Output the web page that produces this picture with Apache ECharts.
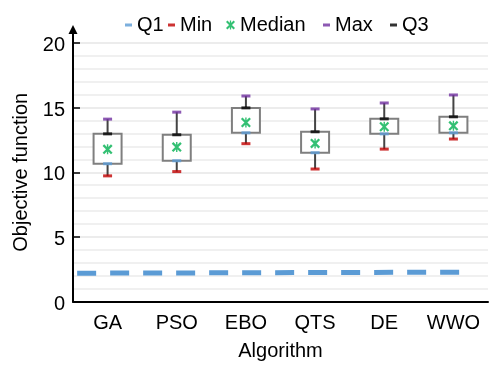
<!DOCTYPE html>
<html><head><meta charset="utf-8">
<script src="https://cdn.jsdelivr.net/npm/echarts@6/dist/echarts.min.js"></script>
<style>html,body{margin:0;padding:0;background:#fff}#c{width:489px;height:365px}</style>
</head><body><div id="c"></div>
<script>
var categories = ['GA', 'PSO', 'EBO', 'QTS', 'DE', 'WWO'];
var minV = [9.72, 10.05, 12.21, 10.25, 11.79, 12.57];
var q1V = [10.66, 10.89, 13.05, 11.51, 12.97, 13.05];
var medV = [11.77, 11.95, 13.85, 12.23, 13.52, 13.59];
var q3V = [12.97, 12.9, 14.98, 13.13, 14.13, 14.29];
var maxV = [14.11, 14.65, 15.9, 14.9, 15.36, 15.98];
var refX = [0.06, 5.63];
var refY = [2.19, 2.27];
var yTicks = [0, 5, 10, 15, 20];

var FONT = "'Liberation Sans', Arial, sans-serif";
var C_Q1 = '#5b9bd5', C_MIN = '#c00000', C_MED = '#00b050', C_MAX = '#7030a0', C_Q3 = '#000000';
var STAR = 'path://M0,1.6L1.6,0L10,8.4L8.4,10Z M8.4,0L10,1.6L1.6,10L0,8.4Z M4.3,0H5.7V10H4.3Z';

function pts(arr) { return arr.map(function (v, i) { return [i, v]; }); }
var boxData = categories.map(function (c, i) { return [i, minV[i], q1V[i], q3V[i], maxV[i]]; });
var refData = refX.map(function (x, i) { return [x, refY[i]]; });

function mkLegend(name, left, icon, w, h) {
  return {
    data: [{ name: name, icon: icon }], left: left, top: 15, padding: 0,
    itemWidth: w, itemHeight: h, selectedMode: false,
    textStyle: { fontFamily: FONT, fontSize: 20, color: '#000', lineHeight: 20 }
  };
}

var chart = echarts.init(document.getElementById('c'));
chart.setOption({
  animation: false,
  backgroundColor: '#fff',
  legend: [
    mkLegend('Q1', 125, 'rect', 7, 3),
    mkLegend('Min', 168, 'rect', 7, 3),
    mkLegend('Median', 226, STAR, 9, 9),
    mkLegend('Max', 323, 'rect', 7, 3),
    mkLegend('Q3', 390, 'rect', 7, 3)
  ],
  grid: [
    { left: 73, right: 1, top: 43, bottom: 63.5, containLabel: false, outerBoundsMode: 'none' },
    { left: 73, right: 1, top: 29.5, bottom: 63.5, containLabel: false, outerBoundsMode: 'none' }
  ],
  xAxis: [{
    type: 'category', data: categories, boundaryGap: true, gridIndex: 0,
    name: 'Algorithm', nameLocation: 'middle', nameGap: 40,
    nameTextStyle: { fontFamily: FONT, fontSize: 20, color: '#000' },
    axisLine: { lineStyle: { color: '#000', width: 2 } },
    axisTick: { inside: true, length: 5, lineStyle: { color: '#000', width: 1.5 } },
    axisLabel: { interval: 0, fontFamily: FONT, fontSize: 20, color: '#000', margin: 12 },
    splitLine: { show: false }
  }, {
    type: 'value', min: 0, max: 6, show: false, gridIndex: 0
  }, {
    type: 'value', min: 0, max: 1, show: false, gridIndex: 1
  }],
  yAxis: [{
    type: 'value', min: yTicks[0], max: yTicks[yTicks.length - 1], interval: 5, gridIndex: 0,
    name: 'Objective function', nameLocation: 'middle', nameGap: 42,
    nameTextStyle: { fontFamily: FONT, fontSize: 20, color: '#000' },
    axisLine: { show: true, lineStyle: { color: '#000', width: 2 } },
    axisTick: { show: true, inside: true, length: 7, lineStyle: { color: '#000', width: 1.5 } },
    axisLabel: {
      fontFamily: FONT, fontSize: 20, color: '#000', margin: 8,
      formatter: function (v) { return '{p|' + v + '}'; },
      rich: { p: { fontFamily: FONT, fontSize: 20, color: '#000', lineHeight: 20, padding: [5, 0, 0, 0] } }
    },
    splitLine: { show: true, lineStyle: { color: '#e6e6e6', width: 1.5 } },
    minorTick: { show: false, splitNumber: 5 },
    minorSplitLine: { show: true, lineStyle: { color: '#ececec', width: 1.5 } }
  }, {
    type: 'value', min: 0, max: 1, gridIndex: 1,
    axisLine: { show: true, symbol: ['none', 'triangle'], symbolSize: [9, 9],
      lineStyle: { color: '#000', width: 2 } },
    axisTick: { show: false }, axisLabel: { show: false }, splitLine: { show: false }
  }],
  series: [
    {
      type: 'line', name: 'ref', xAxisIndex: 1, yAxisIndex: 0, data: refData, symbol: 'none',
      lineStyle: { color: C_Q1, width: 5, type: [19, 14], cap: 'butt' }, z: 2
    },
    {
      type: 'custom', name: 'box', data: boxData,
      encode: { x: 0, y: [1, 2, 3, 4] },
      renderItem: function (params, api) {
        var i = api.value(0);
        var pMin = api.coord([i, api.value(1)]);
        var pQ1 = api.coord([i, api.value(2)]);
        var pQ3 = api.coord([i, api.value(3)]);
        var pMax = api.coord([i, api.value(4)]);
        var w = 28;
        var x = pQ1[0];
        return {
          type: 'group',
          children: [
            { type: 'line', shape: { x1: x, y1: pQ3[1], x2: x, y2: pMax[1] }, style: { stroke: '#444', lineWidth: 2 } },
            { type: 'line', shape: { x1: x, y1: pQ1[1], x2: x, y2: pMin[1] }, style: { stroke: '#444', lineWidth: 2 } },
            { type: 'rect', shape: { x: x - w / 2, y: pQ3[1], width: w, height: pQ1[1] - pQ3[1] },
              style: { fill: '#fff', stroke: '#7f7f7f', lineWidth: 2 } }
          ]
        };
      }, z: 3
    },
    { type: 'scatter', name: 'Q1', data: pts(q1V), symbol: 'rect', symbolSize: [9, 3], itemStyle: { color: C_Q1 }, z: 4 },
    { type: 'scatter', name: 'Min', data: pts(minV), symbol: 'rect', symbolSize: [9, 3], itemStyle: { color: C_MIN }, z: 4 },
    { type: 'scatter', name: 'Median', data: pts(medV), symbol: STAR, symbolSize: [10, 10], itemStyle: { color: C_MED }, z: 4 },
    { type: 'scatter', name: 'Max', data: pts(maxV), symbol: 'rect', symbolSize: [9, 3], itemStyle: { color: C_MAX }, z: 4 },
    { type: 'scatter', name: 'Q3', data: pts(q3V), symbol: 'rect', symbolSize: [9, 3], itemStyle: { color: C_Q3 }, z: 4 }
  ]
});
</script></body></html>
